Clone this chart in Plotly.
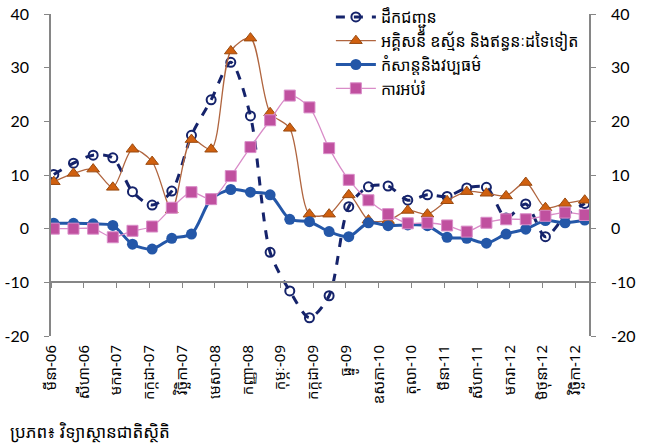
import numpy as np
import plotly.graph_objects as go

# ---- data (quarterly, Mar-06 .. Dec-12) ----
transport = [10.1, 12.2, 13.7, 13.2, 6.9, 4.4, 7.0, 17.4, 24.0, 31.0, 21.0, -4.4, -11.6, -16.6,
             -12.5, 4.1, 7.8, 7.95, 5.3, 6.3, 6.0, 7.6, 7.7, 2.0, 4.6, -1.5, 2.3, 4.7]
utilities = [8.75, 10.3, 11.1, 7.7, 14.8, 12.5, 3.5, 16.6, 14.8, 33.1, 35.5, 21.6, 18.7, 2.7,
             2.7, 6.3, 1.6, 1.5, 3.4, 2.7, 5.2, 6.9, 6.6, 6.1, 8.6, 3.9, 4.7, 5.3]
recreation = [1.0, 1.0, 0.9, 0.6, -2.9, -3.8, -1.8, -1.0, 5.5, 7.3, 6.8, 6.3, 1.75, 1.3,
              -0.55, -1.5, 1.1, 0.55, 0.7, 0.55, -1.6, -1.8, -2.7, -1.0, -0.1, 1.5, 1.1, 1.6]
education = [0.0, 0.0, 0.0, -1.6, -0.4, 0.4, 3.9, 6.8, 5.5, 9.8, 15.2, 20.2, 24.8, 22.6,
             15.0, 9.1, 5.3, 2.7, 1.0, 1.1, 0.6, -0.55, 1.1, 1.75, 1.75, 2.4, 3.0, 2.55]

series_names = ["ដឹកជញ្ជូន", "អគ្គិសនី ឧស្ម័ន និងឥន្ធនៈដទៃទៀត", "កំសាន្តនិងវប្បធម៌", "ការអប់រំ"]

tick_labels = ["មីនា-06", "សីហា-06", "មករា-07", "កក្កដា-07", "វិច្ឆិកា-07", "មេសា-08",
               "កញ្ញា-08", "កុម្ភៈ-09", "កក្កដា-09", "ធ្នូ-09", "ឧសភា-10", "តុលា-10",
               "មីនា-11", "សីហា-11", "មករា-12", "មិថុនា-12", "វិច្ឆិកា-12"]

y_ticks = [40, 30, 20, 10, 0, -10, -20]
y_tick_text = ["40", "30", "20", "10", "0", "-10", "-20"]

source_text = "ប្រភព៖ វិទ្យាស្ថានជាតិស្ថិតិ"

# month index (Jan-06 = 0) for each quarterly observation
n = len(transport)
x = 2 + 3 * np.arange(n)
tick_pos = 1.57 + 5 * np.arange(len(tick_labels))
x_range = [1.57, 83.65]

FONT = "Noto Sans Khmer, Khmer OS, Khmer OS System, Noto Sans, DejaVu Sans, sans-serif"
NUMFONT = "Lato, Noto Sans, sans-serif"
AXIS_COL = "#868686"

fig = go.Figure()
fig.add_trace(go.Scatter(
    x=x, y=transport, name=series_names[0], mode="lines+markers",
    line=dict(color="#15236B", width=3, dash="dash", shape="spline", smoothing=0.8),
    marker=dict(symbol="circle-open", size=9, color="#15236B", line=dict(width=2))))
fig.add_trace(go.Scatter(
    x=x, y=utilities, name=series_names[1], mode="lines+markers",
    line=dict(color="#B0653F", width=1.3, shape="spline", smoothing=0.8),
    marker=dict(symbol="triangle-up", size=11, color="#D0600F", line=dict(color="#9A4A10", width=1))))
fig.add_trace(go.Scatter(
    x=x, y=recreation, name=series_names[2], mode="lines+markers",
    line=dict(color="#2457A8", width=3, shape="spline", smoothing=0.8),
    marker=dict(symbol="circle", size=11, color="#2457A8")))
fig.add_trace(go.Scatter(
    x=x, y=education, name=series_names[3], mode="lines+markers",
    line=dict(color="#D98CC8", width=1.3, shape="spline", smoothing=0.8),
    marker=dict(symbol="square", size=11, color="#C0509F", line=dict(color="#D98CC8", width=1))))
# helper traces to activate secondary axes
fig.add_trace(go.Scatter(x=[x[0]], y=[transport[0]], xaxis="x", yaxis="y2", mode="markers",
                         marker=dict(opacity=0), showlegend=False, hoverinfo="skip"))
fig.add_trace(go.Scatter(x=[x[0]], y=[transport[0]], xaxis="x2", yaxis="y", mode="markers",
                         marker=dict(opacity=0), showlegend=False, hoverinfo="skip"))

yax = dict(range=[-20, 40], tickvals=y_ticks, ticktext=y_tick_text, showgrid=False,
           zeroline=False, showline=True, linecolor=AXIS_COL, linewidth=1.5,
           ticks="outside", ticklen=5, tickcolor=AXIS_COL,
           tickfont=dict(size=16, color="#000000", family=NUMFONT), ticklabelstandoff=12,
           ticklabeloverflow="allow")

fig.update_layout(
    width=645, height=447,
    margin=dict(l=50.5, r=55.7, t=14, b=111, autoexpand=False),
    paper_bgcolor="white", plot_bgcolor="white",
    font=dict(family=FONT, color="#000000"),
    showlegend=True,
    legend=dict(xref="container", yref="container", x=0.513, y=1.02,
                xanchor="left", yanchor="top", bgcolor="rgba(0,0,0,0)",
                font=dict(size=16, family=FONT), tracegroupgap=0, itemwidth=40),
    xaxis=dict(range=x_range, tickvals=tick_pos, ticktext=tick_labels, tickangle=-90,
               showgrid=False, zeroline=False, showline=False, ticks="",
               tickfont=dict(size=15, family=FONT), ticklabelstandoff=5),
    xaxis2=dict(range=x_range, overlaying="x", anchor="free", position=1/6,
                tickvals=tick_pos, showticklabels=False, showgrid=False, zeroline=False,
                showline=True, linecolor=AXIS_COL, linewidth=1.5, ticks="outside",
                ticklen=5, tickcolor=AXIS_COL),
    yaxis=dict(side="left", **yax),
    yaxis2=dict(side="right", overlaying="y", **yax),
    annotations=[dict(text=source_text, xref="paper", yref="paper", x=-0.079, y=-0.298,
                      xanchor="left", yanchor="middle", showarrow=False,
                      font=dict(size=17, family=FONT))],
)

fig.write_html("out.html", config={"displayModeBar": False},
               post_script="document.body.style.margin='0';")
